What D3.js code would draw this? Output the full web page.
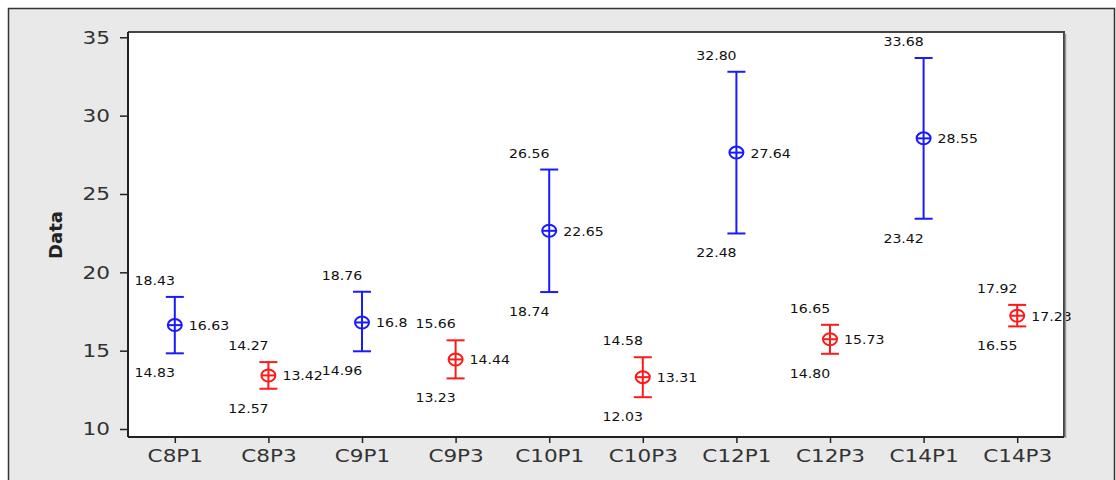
<!DOCTYPE html>
<head>
    <meta charset='utf-8'>
    <style>
        body { margin: 0; background: #fff; font-family: 'DejaVu Sans', Arial, sans-serif; }
    </style>
</head>
<body>
<div id='vis'></div>
<script src='https://cdn.jsdelivr.net/npm/d3@7/dist/d3.min.js'></script>
<script>
  const categories = ['C8P1', 'C8P3', 'C9P1', 'C9P3', 'C10P1', 'C10P3', 'C12P1', 'C12P3', 'C14P1', 'C14P3']
  const means  = [16.63, 13.42, 16.8, 14.44, 22.65, 13.31, 27.64, 15.73, 28.55, 17.23]
  const uppers = [18.43, 14.27, 18.76, 15.66, 26.56, 14.58, 32.80, 16.65, 33.68, 17.92]
  const lowers = [14.83, 12.57, 14.96, 13.23, 18.74, 12.03, 22.48, 14.80, 23.42, 16.55]
  const meanLabels = ['16.63', '13.42', '16.8', '14.44', '22.65', '13.31', '27.64', '15.73', '28.55', '17.23']
  const upperLabels = ['18.43', '14.27', '18.76', '15.66', '26.56', '14.58', '32.80', '16.65', '33.68', '17.92']
  const lowerLabels = ['14.83', '12.57', '14.96', '13.23', '18.74', '12.03', '22.48', '14.80', '23.42', '16.55']
  const yTicks = [10, 15, 20, 25, 30, 35]

  const W = 1116, H = 480
  const plot = {left: 128, top: 32, right: 1064, bottom: 437}
  const FONT = "'DejaVu Sans', sans-serif"

  const data = categories.map((c, i) => ({
    cat: c, mean: means[i], hi: uppers[i], lo: lowers[i],
    ml: meanLabels[i], hl: upperLabels[i], ll: lowerLabels[i],
    color: i % 2 === 0 ? '#1a1aff' : '#ff1a1a'
  }))

  const svg = d3.select('#vis').append('svg')
    .attr('width', W).attr('height', H)

  // grey frame
  svg.append('rect').attr('x', 8).attr('y', 8).attr('width', 1106).attr('height', 480)
    .attr('fill', '#e9e9e9')
  svg.append('path').attr('d', 'M8.5,480V8.5H1114.5V480')
    .attr('fill', 'none').attr('stroke', '#333').attr('stroke-width', 1.5)

  svg.append('rect')
    .attr('x', plot.left).attr('y', plot.top)
    .attr('width', plot.right - plot.left).attr('height', plot.bottom - plot.top)
    .attr('fill', '#fff')

  const x = d3.scalePoint()
    .domain(categories)
    .range([plot.left, plot.right])
    .padding(0.5)

  const y = d3.scaleLinear()
    .domain([10, 35])
    .range([429, 37.3])

  const pts = svg.append('g').selectAll('.pt').data(data).enter().append('g').attr('class', 'pt')

  pts.append('line')
    .attr('x1', d => x(d.cat)).attr('x2', d => x(d.cat))
    .attr('y1', d => y(d.hi)).attr('y2', d => y(d.lo))
    .attr('stroke', d => d.color).attr('stroke-width', 2)
  pts.append('line')
    .attr('x1', d => x(d.cat) - 9).attr('x2', d => x(d.cat) + 9)
    .attr('y1', d => y(d.hi)).attr('y2', d => y(d.hi))
    .attr('stroke', d => d.color).attr('stroke-width', 2)
  pts.append('line')
    .attr('x1', d => x(d.cat) - 9).attr('x2', d => x(d.cat) + 9)
    .attr('y1', d => y(d.lo)).attr('y2', d => y(d.lo))
    .attr('stroke', d => d.color).attr('stroke-width', 2)
  pts.append('ellipse')
    .attr('cx', d => x(d.cat)).attr('cy', d => y(d.mean))
    .attr('rx', 7).attr('ry', 6)
    .attr('fill', 'none').attr('stroke', d => d.color).attr('stroke-width', 2)
  pts.append('line')
    .attr('x1', d => x(d.cat) - 7).attr('x2', d => x(d.cat) + 7)
    .attr('y1', d => y(d.mean)).attr('y2', d => y(d.mean))
    .attr('stroke', d => d.color).attr('stroke-width', 2)

  // wide, old-style sans: stretch DejaVu horizontally
  const lbl = sel => sel.attr('font-size', 12.5).attr('font-family', FONT).attr('fill', '#111')

  pts.append('text')
    .attr('transform', d => `translate(${x(d.cat) - 20},${y(d.hi) - 12}) scale(1.13,1)`)
    .attr('text-anchor', 'middle').call(lbl)
    .text(d => d.hl)
  pts.append('text')
    .attr('transform', d => `translate(${x(d.cat) - 20},${y(d.lo) + 24}) scale(1.13,1)`)
    .attr('text-anchor', 'middle').call(lbl)
    .text(d => d.ll)
  pts.append('text')
    .attr('transform', d => `translate(${x(d.cat) + 14},${y(d.mean) + 5}) scale(1.13,1)`)
    .call(lbl)
    .text(d => d.ml)

  // plot border
  svg.append('path')
    .attr('d', `M${plot.left},${plot.top}H${plot.right}V${plot.bottom}`)
    .attr('fill', 'none').attr('stroke', '#444').attr('stroke-width', 2)
  svg.append('line')
    .attr('x1', plot.right + 1.5).attr('x2', plot.right + 1.5)
    .attr('y1', plot.top + 2).attr('y2', plot.bottom + 1)
    .attr('stroke', '#999').attr('stroke-width', 1.5)

  const S = 1.2
  const yAxis = svg.append('g')
    .attr('transform', `translate(${plot.left},0)`)
    .call(d3.axisLeft(y).tickValues(yTicks).tickSize(8).tickPadding(10))
  yAxis.select('.domain').attr('d', `M0,${plot.top}V${plot.bottom}`).attr('stroke', '#222').attr('stroke-width', 2)
  yAxis.selectAll('.tick line').attr('stroke', '#222').attr('stroke-width', 1.5)
  yAxis.selectAll('.tick text').attr('font-size', 18)
    .attr('font-family', FONT).attr('fill', '#333')
    .attr('x', -18 / S).attr('transform', `scale(${S},1)`)

  const xAxis = svg.append('g')
    .attr('transform', `translate(0,${plot.bottom})`)
    .call(d3.axisBottom(x).tickSize(6).tickPadding(7))
  xAxis.select('.domain').attr('d', `M${plot.left},0H${plot.right}`).attr('stroke', '#222').attr('stroke-width', 2)
  xAxis.selectAll('.tick line').attr('stroke', '#222').attr('stroke-width', 1.5)
  xAxis.selectAll('.tick text').attr('font-size', 17.5)
    .attr('font-family', FONT).attr('fill', '#333')
    .attr('transform', `scale(${S + 0.03},1)`)

  svg.append('text')
    .attr('transform', 'translate(62,235) rotate(-90)')
    .attr('text-anchor', 'middle')
    .attr('font-size', 18).attr('font-weight', 'bold')
    .attr('font-family', FONT).attr('fill', '#222')
    .text('Data')
</script>
</body>
